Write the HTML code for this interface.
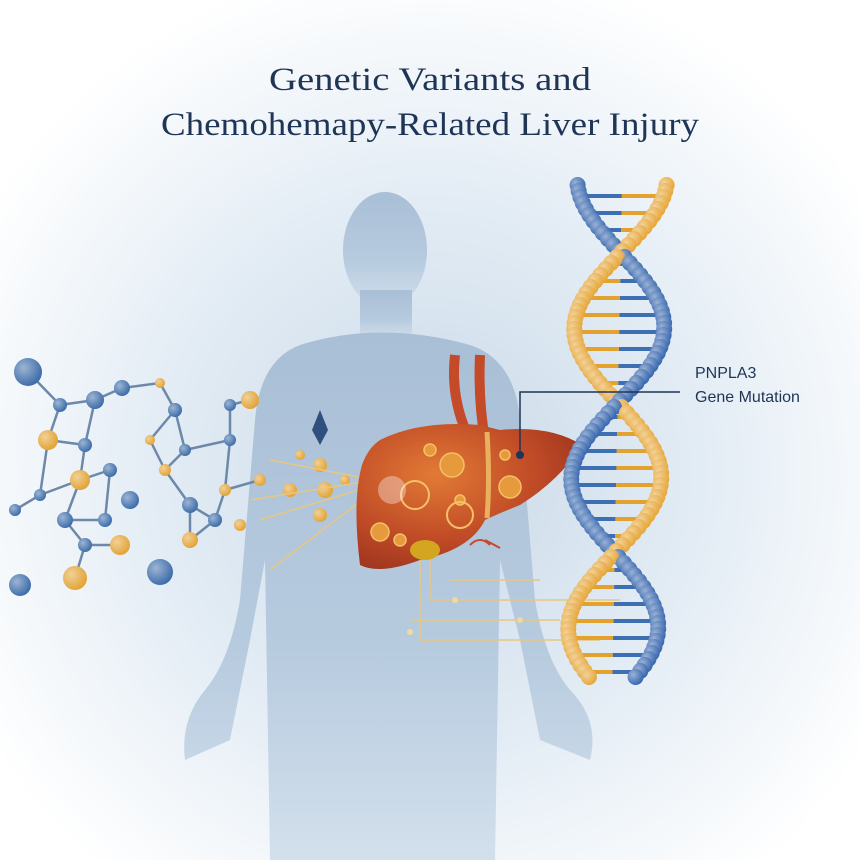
<!DOCTYPE html>
<html><head><meta charset="utf-8">
<style>
html,body{margin:0;padding:0;width:860px;height:860px;overflow:hidden;background:#fff}
svg{display:block}
</style></head>
<body>
<svg id="s" width="860" height="860" viewBox="0 0 860 860" xmlns="http://www.w3.org/2000/svg">
<defs>
<radialGradient id="bg" cx="0.5" cy="0.55" r="0.6">
<stop offset="0" stop-color="#c9d9e8"/><stop offset="0.55" stop-color="#e4edf5"/><stop offset="1" stop-color="#ffffff"/>
</radialGradient>
<linearGradient id="body" x1="0" y1="0" x2="0" y2="1">
<stop offset="0" stop-color="#a9bfd6"/><stop offset="0.6" stop-color="#b7cbdf"/><stop offset="1" stop-color="#d3e0ec"/>
</linearGradient>
<radialGradient id="liv" cx="0.35" cy="0.35" r="0.75">
<stop offset="0" stop-color="#e27a36"/><stop offset="0.6" stop-color="#bf4a26"/><stop offset="1" stop-color="#9a331d"/>
</radialGradient>
<radialGradient id="bead" cx="0.35" cy="0.35" r="0.7">
<stop offset="0" stop-color="#fff" stop-opacity="0.5"/><stop offset="1" stop-color="#fff" stop-opacity="0"/>
</radialGradient>
</defs>
<rect width="860" height="860" fill="url(#bg)"/>
<text x="430" y="90" text-anchor="middle" font-family="Liberation Serif, serif" font-size="33" fill="#1f3556" textLength="322" lengthAdjust="spacingAndGlyphs">Genetic Variants and</text>
<text x="430" y="135" text-anchor="middle" font-family="Liberation Serif, serif" font-size="33" fill="#1f3556" textLength="538" lengthAdjust="spacingAndGlyphs">Chemohemapy-Related Liver Injury</text>
<!-- silhouette -->
<g fill="url(#body)">
<ellipse cx="385" cy="250" rx="42" ry="58"/>
<rect x="360" y="290" width="52" height="50"/>
<path d="M300 345 Q380 320 470 345 Q515 360 520 420 L535 600 Q545 660 570 690 Q600 720 590 760 L540 740 L520 640 L500 560 L495 860 L270 860 L265 560 L250 640 L230 740 L185 760 Q180 720 205 690 Q230 660 240 600 L255 420 Q260 360 300 345Z"/>
</g>
<!-- molecules -->
<g id="mol" stroke="#6e88a8" stroke-width="2.5"></g>
<!-- lines from liver -->
<g stroke="#e8c680" stroke-width="1.5" fill="none">
<path d="M375 480 L270 460 M375 485 L260 520 M375 490 L270 570 M375 480 L250 500"/>
<path d="M420 560 L420 640 L600 640 M430 560 L430 600 L620 600 M410 620 L560 620 M450 580 L540 580"/>
</g>
<g fill="#f0d9a0"><circle cx="455" cy="600" r="3"/><circle cx="410" cy="632" r="3"/><circle cx="520" cy="620" r="3"/></g>
<!-- vessels -->
<path d="M455 355 Q450 400 470 440" stroke="#c44a2a" stroke-width="10" fill="none"/>
<path d="M480 355 Q478 400 485 440" stroke="#c44a2a" stroke-width="10" fill="none"/>
<!-- liver -->
<path d="M380 440 Q420 420 480 425 L500 430 Q550 425 582 445 Q560 480 520 505 Q495 515 485 520 Q470 550 420 560 Q380 575 360 565 Q352 500 362 465 Q368 448 380 440Z" fill="url(#liv)"/>
<path d="M487 432 Q490 480 487 518" stroke="#e9b060" stroke-width="5" fill="none"/>
<ellipse cx="425" cy="550" rx="15" ry="10" fill="#d4a520"/>
<g fill="#e79a3c" stroke="#f5c068" stroke-width="1.5">
<circle cx="452" cy="465" r="12"/><circle cx="510" cy="487" r="11"/><circle cx="380" cy="532" r="9"/><circle cx="400" cy="540" r="6"/><circle cx="505" cy="455" r="5"/><circle cx="460" cy="500" r="5"/><circle cx="430" cy="450" r="6"/>
</g>
<g fill="none" stroke="#f5c068" stroke-width="2"><circle cx="415" cy="495" r="14"/><circle cx="460" cy="515" r="13"/></g>
<circle cx="392" cy="490" r="14" fill="#fff" opacity="0.35"/>
<path d="M470 545 Q480 535 490 545 M485 540 L500 548" stroke="#c44a2a" stroke-width="2" fill="none"/>
<!-- dna -->
<g id="dna"></g>
<!-- label -->
<path d="M520 455 L520 392 L680 392" stroke="#1f3556" stroke-width="1.5" fill="none"/>
<circle cx="520" cy="455" r="4" fill="#1f3556"/>
<text x="695" y="378" font-family="Liberation Sans, sans-serif" font-size="16" fill="#1f3556">PNPLA3</text>
<text x="695" y="402" font-family="Liberation Sans, sans-serif" font-size="16" fill="#1f3556">Gene Mutation</text>
<path d="M320 410 L312 430 L320 445 L328 430Z" fill="#2f4f7f"/>
</svg>
<script>
var NS="http://www.w3.org/2000/svg";
function el(p,t,a){var e=document.createElementNS(NS,t);for(var k in a)e.setAttribute(k,a[k]);p.appendChild(e);return e;}
var d=document.getElementById('dna');
for(var y=196;y<=676;y+=17){var c=Math.cos(Math.PI*(y-178)/150);var cx=622-(y-190)*0.02;
 el(d,'line',{x1:cx-45*c,y1:y,x2:cx,y2:y,stroke:'#3e6fb3','stroke-width':4});
 el(d,'line',{x1:cx,y1:y,x2:cx+45*c,y2:y,stroke:'#e3a12e','stroke-width':4});}
for(var y=185;y<=682;y+=6){var c=Math.cos(Math.PI*(y-178)/150);var cx=622-(y-190)*0.02;var sn=-Math.sin(Math.PI*(y-178)/150);
 var bo=[[cx-45*c,'#3565ad'],[cx+45*c,'#e6a535']];
 if(sn>0)bo.reverse();
 bo.forEach(function(b){el(d,'circle',{cx:b[0],cy:y,r:8,fill:b[1]});el(d,'circle',{cx:b[0],cy:y,r:8,fill:'url(#bead)'});});}
var m=document.getElementById('mol');
var nodes=[[28,372,14,'#3a6aa8'],[60,405,7,'#3a6aa8'],[95,400,9,'#3a6aa8'],[48,440,10,'#e2a232'],[85,445,7,'#3a6aa8'],[110,470,7,'#3a6aa8'],[80,480,10,'#e2a232'],[40,495,6,'#3a6aa8'],[65,520,8,'#3a6aa8'],[105,520,7,'#3a6aa8'],[15,510,6,'#3a6aa8'],[120,545,10,'#e2a232'],[85,545,7,'#3a6aa8'],[20,585,11,'#3a6aa8'],[75,578,12,'#e2a232'],[160,572,13,'#3a6aa8'],[122,388,8,'#3a6aa8'],[160,383,5,'#e2a232'],[175,410,7,'#3a6aa8'],[150,440,5,'#e2a232'],[185,450,6,'#3a6aa8'],[165,470,6,'#e2a232'],[190,505,8,'#3a6aa8'],[190,540,8,'#e2a232'],[215,520,7,'#3a6aa8'],[225,490,6,'#e2a232'],[230,440,6,'#3a6aa8'],[250,400,9,'#e2a232'],[230,405,6,'#3a6aa8'],[260,480,6,'#e2a232'],[240,525,6,'#e2a232'],[290,490,7,'#e2a232'],[325,490,8,'#e2a232'],[320,465,7,'#e2a232'],[320,515,7,'#e2a232'],[345,480,5,'#e2a232'],[300,455,5,'#e2a232'],[130,500,9,'#3a6aa8']];
var links=[[0,1],[1,2],[1,3],[3,4],[4,2],[4,6],[6,5],[6,7],[7,3],[6,8],[8,9],[9,5],[8,12],[12,11],[7,10],[2,16],[16,17],[17,18],[18,19],[19,21],[21,20],[20,18],[21,22],[22,24],[24,23],[22,23],[20,26],[26,28],[28,27],[24,25],[25,29],[26,25],[12,14]];
links.forEach(function(l){var a=nodes[l[0]],b=nodes[l[1]];el(m,'line',{x1:a[0],y1:a[1],x2:b[0],y2:b[1]});});
nodes.forEach(function(n){el(m,'circle',{cx:n[0],cy:n[1],r:n[2],fill:n[3],stroke:'none'});el(m,'circle',{cx:n[0],cy:n[1],r:n[2],fill:'url(#bead)',stroke:'none'});});
</script>
</body></html>
